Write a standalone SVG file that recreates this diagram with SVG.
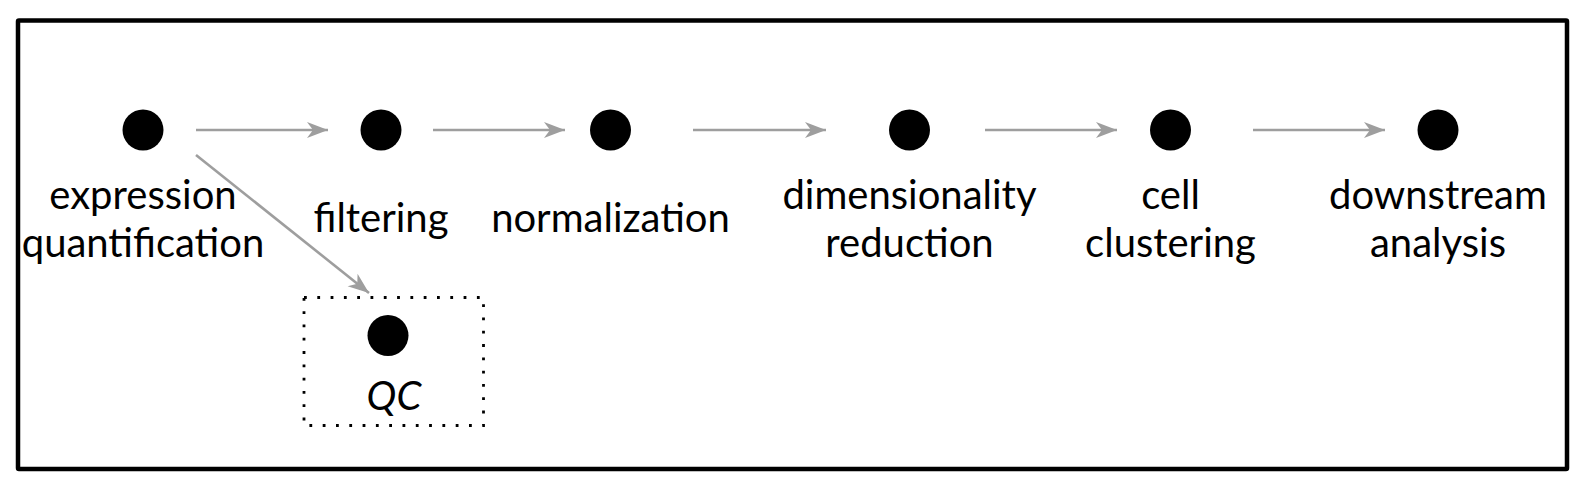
<svg xmlns="http://www.w3.org/2000/svg" width="1588" height="488" viewBox="0 0 1588 488">
<style>
  .frame{fill:#fff;stroke:#000;stroke-width:4.5}
  .dot{fill:#000}
  .lbl{font-family:Lato,"Open Sans","Liberation Sans",sans-serif;font-size:40px;fill:#000;text-anchor:middle}
  .qc{font-style:italic}
  .conn{stroke:#9e9e9e;stroke-width:2.6;fill:none;marker-end:url(#ah)}
  .box{fill:none;stroke:#000;stroke-width:2.8;stroke-dasharray:2.8 10.5}
</style>
<defs>
  <marker id="ah" viewBox="-22 -9 24 18" refX="0" refY="0" markerWidth="24" markerHeight="18" markerUnits="userSpaceOnUse" orient="auto">
    <path d="M0,0 L-21,-8 L-15,0 L-21,8 Z" fill="#9e9e9e"/>
  </marker>
</defs>
<rect class="frame" x="18" y="20.5" width="1549" height="448.5" rx="1"/>
<g id="connectors">
  <line class="conn" x1="196" y1="130" x2="328" y2="130"/>
  <line class="conn" x1="433" y1="130" x2="565" y2="130"/>
  <line class="conn" x1="693" y1="130" x2="826" y2="130"/>
  <line class="conn" x1="985" y1="130" x2="1117" y2="130"/>
  <line class="conn" x1="1253" y1="130" x2="1385" y2="130"/>
  <line class="conn" x1="196" y1="155" x2="369" y2="293"/>
</g>
<g id="node-expression">
  <circle class="dot" cx="143" cy="130" r="20.5"/>
  <text class="lbl" x="143" y="209">expression</text>
  <text class="lbl" x="143" y="257">quantification</text>
</g>
<g id="node-filtering">
  <circle class="dot" cx="381" cy="130" r="20.5"/>
  <text class="lbl" x="381" y="232">filtering</text>
</g>
<g id="node-normalization">
  <circle class="dot" cx="610.5" cy="130" r="20.5"/>
  <text class="lbl" x="610.5" y="232">normalization</text>
</g>
<g id="node-dimred">
  <circle class="dot" cx="909.5" cy="130" r="20.5"/>
  <text class="lbl" x="909.5" y="209">dimensionality</text>
  <text class="lbl" x="909.5" y="257">reduction</text>
</g>
<g id="node-clustering">
  <circle class="dot" cx="1170.5" cy="130" r="20.5"/>
  <text class="lbl" x="1170.5" y="209">cell</text>
  <text class="lbl" x="1170.5" y="257">clustering</text>
</g>
<g id="node-downstream">
  <circle class="dot" cx="1438" cy="130" r="20.5"/>
  <text class="lbl" x="1438" y="209">downstream</text>
  <text class="lbl" x="1438" y="257">analysis</text>
</g>
<g id="node-qc">
  <rect class="box" x="304" y="297.5" width="179.5" height="128"/>
  <circle class="dot" cx="388" cy="335.5" r="20.5"/>
  <text class="lbl qc" x="394" y="410">QC</text>
</g>
</svg>
